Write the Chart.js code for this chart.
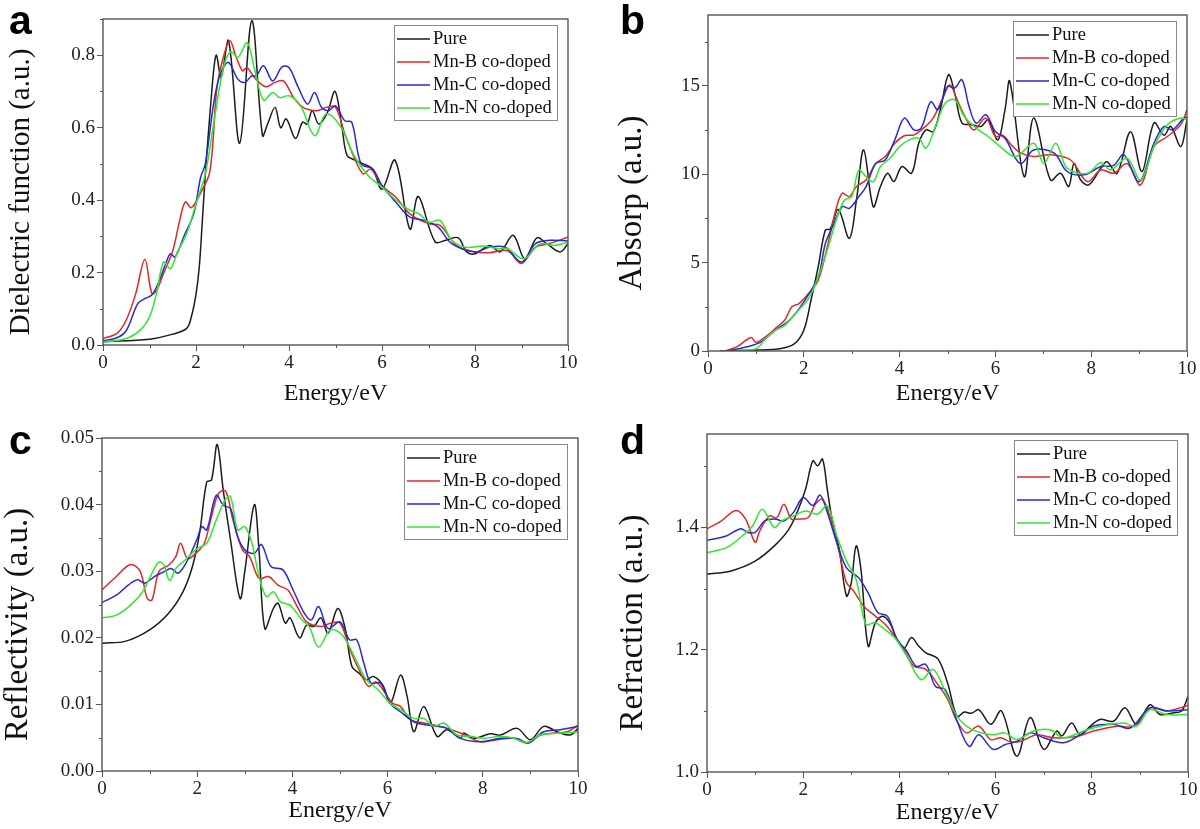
<!DOCTYPE html>
<html>
<head>
<meta charset="utf-8">
<script src="https://cdn.jsdelivr.net/npm/chart.js@4.4.1/dist/chart.umd.min.js"></script>
<style>
body{margin:0;background:#fff;width:1200px;height:829px;position:relative;overflow:hidden}
.panel{position:absolute}
.lettre{position:absolute;font-family:"Liberation Sans",Arial,sans-serif;font-weight:bold;font-size:41px;line-height:41px;color:#000}
</style>
</head>
<body>
<div class="panel" style="left:0;top:0;width:600px;height:410px"><canvas id="ca"></canvas></div>
<div class="panel" style="left:600px;top:0;width:600px;height:410px"><canvas id="cb"></canvas></div>
<div class="panel" style="left:0;top:410px;width:600px;height:419px"><canvas id="cc"></canvas></div>
<div class="panel" style="left:600px;top:410px;width:600px;height:419px"><canvas id="cd"></canvas></div>
<div class="lettre" style="left:9px;top:0px">a</div>
<div class="lettre" style="left:620px;top:0px">b</div>
<div class="lettre" style="left:9px;top:420px">c</div>
<div class="lettre" style="left:620px;top:420px">d</div>
<script>
// noms et couleurs des courbes
var noms=["Pure","Mn-B co-doped","Mn-C co-doped","Mn-N co-doped"]
var couleurs=["#1c1c1c","#e02828","#2a2ad2","#2ee82e"]
var serif='"Liberation Serif","Times New Roman",serif'

// (a) fonction dielectrique  [energie eV, valeur]
var aPure=[[0,0.009],[1.0,0.016],[1.5,0.03],[1.8,0.046],[1.9,0.078],[2.0,0.14],[2.07,0.215],[2.14,0.35],[2.21,0.49],[2.32,0.67],[2.39,0.77],[2.44,0.80],[2.54,0.74],[2.7,0.84],[2.94,0.557],[3.2,0.895],[3.43,0.578],[3.54,0.61],[3.7,0.656],[3.82,0.60],[3.94,0.624],[4.14,0.57],[4.29,0.615],[4.39,0.61],[4.5,0.647],[4.64,0.61],[4.82,0.64],[4.99,0.70],[5.14,0.60],[5.25,0.523],[5.43,0.51],[5.6,0.50],[5.8,0.486],[6.0,0.43],[6.28,0.51],[6.6,0.32],[6.78,0.41],[7.14,0.285],[7.39,0.29],[7.64,0.296],[7.82,0.257],[8.0,0.252],[8.32,0.275],[8.54,0.257],[8.82,0.303],[9.07,0.238],[9.33,0.296],[9.54,0.28],[9.83,0.257],[10,0.28]]
var aMnB=[[0,0.018],[0.3,0.032],[0.5,0.069],[0.7,0.14],[0.9,0.236],[1.05,0.142],[1.15,0.15],[1.3,0.197],[1.5,0.26],[1.65,0.344],[1.77,0.395],[1.9,0.379],[2.1,0.42],[2.3,0.48],[2.45,0.71],[2.6,0.80],[2.73,0.84],[2.85,0.80],[3.0,0.757],[3.1,0.766],[3.25,0.739],[3.5,0.713],[3.7,0.725],[3.88,0.729],[4.1,0.683],[4.3,0.656],[4.6,0.647],[4.8,0.656],[5.0,0.656],[5.2,0.583],[5.4,0.518],[5.6,0.472],[5.75,0.486],[6.0,0.44],[6.3,0.408],[6.6,0.362],[7.0,0.335],[7.25,0.33],[7.6,0.275],[8.0,0.257],[8.3,0.255],[8.7,0.26],[9.0,0.225],[9.3,0.27],[9.6,0.28],[10,0.298]]
var aMnC=[[0,0.012],[0.3,0.02],[0.5,0.04],[0.75,0.115],[0.9,0.128],[1.05,0.138],[1.2,0.174],[1.35,0.225],[1.45,0.252],[1.55,0.243],[1.75,0.303],[1.95,0.362],[2.1,0.463],[2.2,0.50],[2.4,0.683],[2.55,0.757],[2.7,0.78],[2.9,0.734],[3.05,0.725],[3.2,0.743],[3.3,0.743],[3.45,0.771],[3.65,0.729],[3.85,0.768],[4.0,0.766],[4.2,0.711],[4.4,0.665],[4.55,0.697],[4.7,0.656],[4.85,0.647],[5.0,0.66],[5.2,0.619],[5.35,0.615],[5.55,0.5],[5.8,0.486],[6.0,0.44],[6.3,0.394],[6.6,0.353],[6.9,0.344],[7.2,0.326],[7.5,0.28],[8.0,0.257],[8.3,0.27],[8.65,0.27],[9.0,0.229],[9.3,0.28],[9.6,0.289],[10,0.287]]
var aMnN=[[0,0.008],[0.5,0.018],[0.8,0.041],[1.0,0.078],[1.15,0.142],[1.3,0.229],[1.45,0.211],[1.6,0.257],[1.8,0.307],[2.0,0.39],[2.2,0.472],[2.4,0.628],[2.6,0.771],[2.75,0.81],[2.9,0.794],[3.1,0.835],[3.25,0.766],[3.45,0.676],[3.65,0.697],[3.8,0.683],[4.0,0.688],[4.25,0.66],[4.55,0.578],[4.8,0.638],[5.1,0.605],[5.4,0.523],[5.7,0.468],[6.0,0.436],[6.3,0.40],[6.6,0.372],[6.8,0.362],[7.0,0.339],[7.25,0.344],[7.5,0.289],[7.8,0.27],[8.2,0.273],[8.5,0.266],[8.7,0.266],[9.05,0.238],[9.4,0.28],[9.7,0.275],[10,0.284]]

// (b) absorption
var bPure=[[0.25,0],[1.0,0.05],[1.5,0.13],[1.8,0.4],[2.0,1.17],[2.15,2.87],[2.3,4.76],[2.45,6.84],[2.55,6.9],[2.72,8.0],[2.95,6.37],[3.1,8.54],[3.25,11.37],[3.45,8.16],[3.6,9.3],[3.75,10.05],[3.88,9.58],[4.05,10.43],[4.25,10.05],[4.4,11.75],[4.55,12.5],[4.7,12.4],[4.85,13.64],[5.02,15.62],[5.15,14.58],[5.3,12.9],[5.5,12.8],[5.7,12.7],[5.85,13.07],[6.05,11.94],[6.2,13.64],[6.3,15.25],[6.6,9.86],[6.8,13.17],[7.15,9.67],[7.36,10.05],[7.53,9.3],[7.64,10.6],[7.78,9.67],[7.95,9.39],[8.2,10.33],[8.33,10.7],[8.54,10.05],[8.82,12.4],[9.06,10.15],[9.31,12.9],[9.52,12.2],[9.66,12.7],[9.87,11.56],[10,13.07]]
var bMnB=[[0.35,0],[0.6,0.23],[0.9,0.76],[1.0,0.5],[1.2,0.8],[1.4,1.27],[1.6,1.74],[1.75,2.5],[1.9,2.68],[2.1,3.25],[2.3,4.0],[2.5,6.0],[2.65,7.78],[2.8,8.92],[2.95,8.73],[3.1,9.3],[3.3,9.67],[3.5,10.6],[3.7,11.0],[3.9,11.75],[4.1,12.17],[4.3,12.22],[4.5,12.6],[4.7,13.17],[4.9,14.3],[5.05,15.06],[5.2,14.2],[5.4,13.07],[5.55,12.5],[5.8,13.17],[6.0,12.13],[6.15,12.2],[6.35,11.6],[6.52,11.2],[6.8,11.0],[7.15,11.1],[7.57,10.8],[7.92,9.58],[8.2,10.24],[8.47,10.05],[8.75,10.6],[9.03,9.39],[9.31,11.56],[9.59,12.13],[9.87,12.8],[10,13.64]]
var bMnC=[[0.4,0],[0.8,0.23],[1.1,0.5],[1.4,1.17],[1.7,1.74],[2.0,2.78],[2.3,4.2],[2.45,6.08],[2.6,7.03],[2.8,8.16],[2.95,8.07],[3.15,8.73],[3.3,9.3],[3.5,10.6],[3.7,10.8],[3.9,11.94],[4.1,13.17],[4.3,12.5],[4.45,12.6],[4.65,14.1],[4.8,13.64],[5.0,14.96],[5.15,14.87],[5.3,15.34],[5.45,13.83],[5.6,12.88],[5.8,13.36],[6.0,12.41],[6.2,12.03],[6.52,10.6],[6.8,11.37],[7.22,11.2],[7.5,10.15],[7.85,9.96],[8.2,10.43],[8.47,10.5],[8.68,11.1],[9.0,9.58],[9.31,11.75],[9.52,12.7],[9.69,12.5],[9.9,13.07],[10,13.26]]
var bMnN=[[0.55,0],[1.0,0.13],[1.2,0.7],[1.4,1.17],[1.6,1.45],[1.85,2.21],[2.1,2.97],[2.3,4.2],[2.5,5.8],[2.7,7.6],[2.85,8.54],[3.0,8.73],[3.15,10.24],[3.3,9.86],[3.45,9.58],[3.6,10.43],[3.8,10.9],[4.0,11.56],[4.2,11.94],[4.4,12.03],[4.55,11.47],[4.75,12.7],[4.95,14.0],[5.15,14.2],[5.35,13.26],[5.6,12.6],[5.85,12.13],[6.1,11.56],[6.42,11.0],[6.8,11.75],[7.01,10.6],[7.26,11.75],[7.5,10.33],[7.92,10.05],[8.2,10.66],[8.4,10.24],[8.75,10.9],[9.03,9.67],[9.31,11.56],[9.59,12.8],[9.87,13.17],[10,13.07]]

// (c) reflectivite
var cPure=[[0,0.0192],[0.5,0.0195],[1.0,0.0212],[1.4,0.0237],[1.7,0.0269],[1.9,0.0307],[2.05,0.0357],[2.2,0.0434],[2.3,0.0437],[2.42,0.049],[2.55,0.042],[2.7,0.0347],[2.9,0.0259],[3.0,0.030],[3.2,0.040],[3.3,0.033],[3.42,0.0214],[3.6,0.0244],[3.7,0.0252],[3.85,0.0222],[3.95,0.023],[4.15,0.020],[4.3,0.0219],[4.45,0.0217],[4.6,0.023],[4.75,0.0207],[4.95,0.0244],[5.1,0.0217],[5.25,0.0157],[5.4,0.0147],[5.55,0.0137],[5.7,0.0142],[5.9,0.0129],[6.06,0.0102],[6.27,0.0144],[6.41,0.0112],[6.55,0.0059],[6.76,0.0097],[7.04,0.0052],[7.25,0.0062],[7.53,0.0049],[7.6,0.0057],[7.81,0.0049],[8.16,0.0056],[8.37,0.0054],[8.72,0.0064],[9.0,0.0047],[9.28,0.0067],[9.56,0.0059],[9.84,0.0054],[10,0.0064]]
var cMnB=[[0,0.0272],[0.3,0.0292],[0.6,0.031],[0.8,0.030],[0.95,0.0259],[1.05,0.0257],[1.2,0.030],[1.4,0.0309],[1.55,0.0322],[1.65,0.0342],[1.8,0.0319],[2.0,0.0329],[2.15,0.0342],[2.3,0.0382],[2.45,0.0417],[2.6,0.042],[2.75,0.0377],[2.95,0.0332],[3.1,0.0322],[3.3,0.0289],[3.5,0.0292],[3.7,0.0279],[3.9,0.0272],[4.1,0.0247],[4.3,0.0224],[4.6,0.0217],[4.8,0.0222],[5.0,0.0222],[5.2,0.0184],[5.4,0.0152],[5.6,0.0127],[5.75,0.0134],[5.95,0.0117],[6.1,0.0102],[6.27,0.0097],[6.48,0.0077],[6.76,0.0072],[7.11,0.0067],[7.53,0.0057],[7.95,0.0044],[8.3,0.0047],[8.65,0.0049],[8.93,0.0042],[9.21,0.0054],[9.49,0.0057],[9.77,0.0059],[10,0.0069]]
var cMnC=[[0,0.0253],[0.3,0.0264],[0.55,0.0279],[0.75,0.0287],[0.9,0.0282],[1.1,0.0292],[1.3,0.0299],[1.45,0.0304],[1.6,0.0297],[1.8,0.0317],[2.0,0.0349],[2.1,0.0367],[2.2,0.0362],[2.4,0.0414],[2.55,0.0399],[2.7,0.0394],[2.85,0.0352],[3.0,0.0332],[3.2,0.0327],[3.35,0.034],[3.55,0.0307],[3.8,0.0302],[4.0,0.0274],[4.25,0.0237],[4.4,0.0227],[4.55,0.0247],[4.75,0.0214],[5.0,0.0224],[5.2,0.0197],[5.35,0.0197],[5.5,0.0162],[5.65,0.0132],[5.85,0.0132],[6.05,0.0102],[6.27,0.0089],[6.55,0.0074],[6.83,0.0069],[7.25,0.0064],[7.53,0.0049],[7.95,0.0044],[8.37,0.0049],[8.72,0.0049],[8.96,0.0042],[9.28,0.0059],[9.63,0.0062],[10,0.0067]]
var cMnN=[[0,0.023],[0.3,0.0234],[0.6,0.0249],[0.85,0.0269],[1.05,0.0297],[1.2,0.0314],[1.3,0.0309],[1.42,0.0286],[1.55,0.0304],[1.75,0.0317],[2.0,0.0334],[2.2,0.0342],[2.4,0.0377],[2.6,0.0409],[2.7,0.0412],[2.85,0.0362],[3.0,0.0367],[3.15,0.0342],[3.3,0.0292],[3.45,0.0262],[3.6,0.0269],[3.75,0.0254],[3.95,0.0249],[4.2,0.0227],[4.35,0.0217],[4.55,0.0186],[4.8,0.0212],[5.05,0.0204],[5.3,0.0172],[5.55,0.0137],[5.8,0.0122],[6.05,0.0102],[6.27,0.0092],[6.55,0.0079],[6.76,0.0079],[6.97,0.0067],[7.18,0.0072],[7.46,0.0054],[7.74,0.0052],[8.02,0.0049],[8.37,0.0052],[8.65,0.0049],[8.93,0.0043],[9.21,0.0054],[9.63,0.0057],[10,0.0059]]

// (d) refraction
var dPure=[[0,1.3235],[0.5,1.329],[1.0,1.345],[1.4,1.37],[1.7,1.397],[1.9,1.43],[2.05,1.463],[2.2,1.509],[2.3,1.501],[2.4,1.512],[2.5,1.463],[2.6,1.414],[2.75,1.364],[2.9,1.288],[3.0,1.31],[3.1,1.37],[3.2,1.332],[3.35,1.206],[3.5,1.244],[3.65,1.255],[3.8,1.244],[3.95,1.217],[4.1,1.203],[4.25,1.22],[4.4,1.206],[4.55,1.195],[4.8,1.185],[5.0,1.146],[5.2,1.091],[5.35,1.098],[5.5,1.096],[5.65,1.102],[5.9,1.078],[6.12,1.1],[6.44,1.026],[6.72,1.089],[7.0,1.037],[7.27,1.067],[7.38,1.059],[7.58,1.08],[7.76,1.061],[7.97,1.075],[8.17,1.086],[8.45,1.083],[8.69,1.105],[8.93,1.078],[9.21,1.11],[9.42,1.094],[9.7,1.097],[9.87,1.1],[10,1.124]]
var dMnB=[[0,1.398],[0.3,1.411],[0.6,1.428],[0.8,1.414],[1.0,1.376],[1.1,1.395],[1.3,1.419],[1.45,1.416],[1.6,1.438],[1.75,1.414],[1.9,1.414],[2.1,1.416],[2.25,1.438],[2.4,1.446],[2.55,1.419],[2.75,1.359],[2.9,1.31],[3.05,1.296],[3.25,1.272],[3.5,1.255],[3.7,1.242],[3.9,1.222],[4.1,1.2],[4.3,1.173],[4.55,1.168],[4.8,1.143],[5.0,1.119],[5.2,1.083],[5.4,1.064],[5.65,1.075],[5.9,1.053],[6.1,1.056],[6.3,1.05],[6.51,1.05],[6.86,1.061],[7.2,1.056],[7.69,1.058],[8.03,1.067],[8.52,1.075],[8.87,1.075],[9.21,1.105],[9.56,1.1],[10,1.109]]
var dMnC=[[0,1.379],[0.4,1.386],[0.7,1.398],[0.85,1.392],[1.0,1.392],[1.2,1.411],[1.4,1.414],[1.6,1.411],[1.8,1.425],[2.0,1.449],[2.2,1.436],[2.35,1.453],[2.5,1.425],[2.7,1.375],[2.9,1.334],[3.15,1.318],[3.35,1.293],[3.55,1.261],[3.75,1.255],[3.95,1.217],[4.15,1.198],[4.35,1.173],[4.55,1.176],[4.75,1.14],[4.95,1.135],[5.2,1.083],[5.45,1.042],[5.65,1.061],[5.95,1.037],[6.2,1.045],[6.44,1.05],[6.72,1.064],[7.0,1.056],[7.41,1.048],[7.76,1.061],[8.03,1.075],[8.45,1.078],[8.8,1.072],[9.21,1.105],[9.56,1.1],[10,1.102]]
var dMnN=[[0,1.359],[0.4,1.367],[0.7,1.384],[0.95,1.403],[1.15,1.43],[1.4,1.4],[1.55,1.411],[1.8,1.419],[2.05,1.427],[2.3,1.422],[2.5,1.436],[2.7,1.386],[2.9,1.345],[3.1,1.315],[3.3,1.242],[3.5,1.244],[3.7,1.233],[3.9,1.22],[4.15,1.19],[4.45,1.151],[4.7,1.168],[4.95,1.132],[5.2,1.091],[5.45,1.072],[5.7,1.064],[5.95,1.061],[6.2,1.064],[6.44,1.053],[6.79,1.067],[7.13,1.069],[7.41,1.056],[7.83,1.067],[8.17,1.075],[8.66,1.08],[8.93,1.075],[9.21,1.102],[9.56,1.094],[10,1.094]]

var xTitre="Energy/eV"

// cadre, petites graduations, titre de l'axe y et legende dessinés a la main
var decor={
    id:"decor",
    afterDatasetsDraw(chart,args,opts){
        var ctx=chart.ctx, ca=chart.chartArea, sx=chart.scales.x, sy=chart.scales.y
        ctx.save()
        ctx.strokeStyle="#555"
        ctx.lineWidth=1.4
        ctx.strokeRect(ca.left,ca.top,ca.right-ca.left,ca.bottom-ca.top)
        // petites graduations
        ctx.lineWidth=1
        ctx.beginPath()
        for(var v=sx.min+opts.minorX;v<sx.max;v+=opts.minorX*2){
            var px=Math.round(sx.getPixelForValue(v))+0.5
            ctx.moveTo(px,ca.bottom);ctx.lineTo(px,ca.bottom+3)
        }
        for(var v=sy.min+opts.minorY;v<sy.max+1e-9;v+=opts.minorY*2){
            var py=Math.round(sy.getPixelForValue(v))+0.5
            ctx.moveTo(ca.left,py);ctx.lineTo(ca.left-3,py)
        }
        ctx.stroke()
        // titre y (un peu decale vers le bas comme l'original)
        ctx.save()
        ctx.translate(opts.yTitreX,(ca.top+ca.bottom)/2+opts.yTitreDy)
        ctx.rotate(-Math.PI/2)
        ctx.font=opts.yTitreTaille+"px "+serif
        ctx.fillStyle="#111"
        ctx.textAlign="center"
        ctx.textBaseline="middle"
        ctx.fillText(opts.yTitre,0,0)
        ctx.restore()
        // legende
        var w=163,h=95
        var bx=ca.right-11-w, by=ca.top+6
        ctx.fillStyle="#fff"
        ctx.fillRect(bx,by,w,h)
        ctx.strokeStyle="#8a8a8a"
        ctx.strokeRect(bx+0.5,by+0.5,w,h)
        ctx.font="18.5px "+serif
        ctx.textBaseline="middle"
        chart.data.datasets.forEach(function(ds,i){
            var yy=by+14+i*23
            ctx.strokeStyle=ds.borderColor
            ctx.lineWidth=1.6
            ctx.beginPath();ctx.moveTo(bx+3,yy);ctx.lineTo(bx+36,yy);ctx.stroke()
            ctx.fillStyle="#111"
            ctx.fillText(ds.label,bx+39,yy)
        })
        ctx.restore()
    }
}

function makePanel(id,series,p){
    var ds=series.map(function(s,i){
        return {label:noms[i],data:s,borderColor:couleurs[i],borderWidth:1.5,pointRadius:0,tension:0.35,order:4-i,fill:false}
    })
    return new Chart(document.getElementById(id),{
        type:"line",
        data:{datasets:ds},
        options:{
            responsive:true,maintainAspectRatio:false,animation:false,
            layout:{padding:{left:0,top:p.top,right:p.right,bottom:0}},
            plugins:{legend:{display:false},tooltip:{enabled:false},
                decor:{minorX:1,minorY:p.minor,yTitre:p.titre,yTitreX:p.ytx,yTitreDy:p.ytdy,yTitreTaille:p.yts}},
            scales:{
                x:{type:"linear",min:0,max:10,
                    border:{display:false},
                    grid:{drawOnChartArea:false,tickLength:6,color:"#555"},
                    ticks:{stepSize:2,font:{family:serif,size:19},color:"#222",padding:1,maxRotation:0,callback:function(v){return v.toFixed(0)}},
                    title:{display:true,text:xTitre,font:{family:serif,size:24},color:"#111",padding:{top:0,bottom:p.xtp}},
                    afterFit:function(s){s.height=p.xh}
                },
                y:{type:"linear",min:p.min,max:p.max,
                    border:{display:false},
                    grid:{drawOnChartArea:false,tickLength:6,color:"#555"},
                    ticks:{stepSize:p.step,includeBounds:false,font:{family:serif,size:19},color:"#222",padding:2,callback:function(v){return v.toFixed(p.dec)}},
                    afterFit:function(s){s.width=p.yw}
                }
            }
        },
        plugins:[decor]
    })
}

makePanel("ca",[aPure,aMnB,aMnC,aMnN],{titre:"Dielectric function (a.u.)",yts:29,ytx:21,ytdy:10,min:0,max:0.9,step:0.2,minor:0.1,dec:1,top:19,right:32,yw:103,xh:65,xtp:2})
makePanel("cb",[bPure,bMnB,bMnC,bMnN],{titre:"Absorp (a.u.)",yts:33,ytx:32,ytdy:20,min:0,max:19,step:5,minor:2.5,dec:0,top:15,right:13,yw:108,xh:59,xtp:2})
makePanel("cc",[cPure,cMnB,cMnC,cMnN],{titre:"Reflectivity (a.u.)",yts:33,ytx:18,ytdy:20,min:0,max:0.05,step:0.01,minor:0.005,dec:2,top:28,right:22,yw:102,xh:58,xtp:4})
makePanel("cd",[dPure,dMnB,dMnC,dMnN],{titre:"Refraction (a.u.)",yts:33,ytx:33,ytdy:20,min:1.0,max:1.553,step:0.2,minor:0.1,dec:1,top:24,right:12,yw:107,xh:57,xtp:2})
</script>
</body>
</html>
